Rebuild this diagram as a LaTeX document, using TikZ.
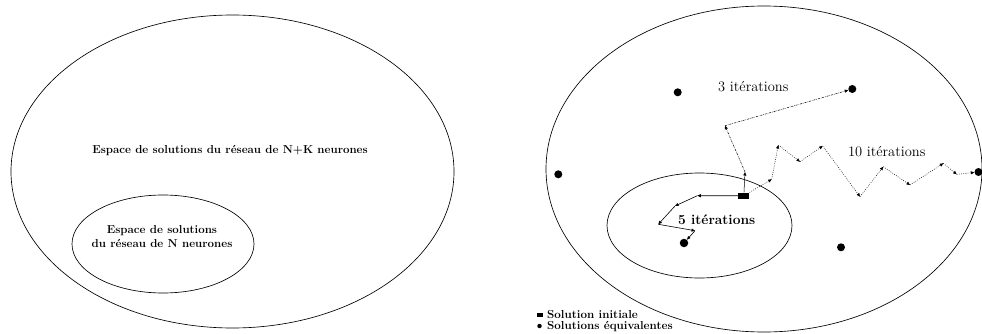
\documentclass[tikz,border=0pt]{standalone}
\usetikzlibrary{arrows.meta}
\begin{document}
\begin{tikzpicture}[x=1pt,y=-1pt,
  region/.style={draw, line width=0.65pt},
  sol/.style={circle, fill, inner sep=0pt, minimum size=8pt},
  startbox/.style={rectangle, fill, inner sep=0pt, minimum width=11pt, minimum height=6.5pt},
  itertip/.style={-{Triangle[length=3.5pt,width=3pt]}},
  fivepath/.style={itertip, line width=0.6pt},
  threepath/.style={itertip, line width=0.5pt, dash pattern=on 2pt off 1pt on 0.6pt off 1pt},
  tenpath/.style={itertip, line width=0.5pt, dash pattern=on 0.8pt off 1.4pt},
  bigtext/.style={font=\bfseries\fontsize{11.5}{14}\selectfont, align=center, inner sep=0pt},
  itertext/.style={font=\fontsize{14.5}{16}\selectfont, inner sep=0pt},
  legendtext/.style={font=\bfseries\fontsize{11.6}{12}\selectfont, anchor=base west, inner sep=0pt}
]
\useasboundingbox (0,0) rectangle (982,334);

% ---------- left: nested solution spaces ----------
\draw[region] (232.5,171.5) ellipse [x radius=221.5pt, y radius=156.5pt];
\draw[region] (163,244) ellipse [x radius=91pt, y radius=49pt];
\node[bigtext] (bigspace) at (230,151) {Espace de solutions du réseau de N+K neurones};
\node[bigtext] (smallspace) at (162,237) {Espace de solutions\\du réseau de N neurones};

% ---------- right: search trajectories ----------
\draw[region] (764,169) ellipse [x radius=218pt, y radius=163pt];
\draw[region] (699.5,225.5) ellipse [x radius=92.5pt, y radius=52.5pt];

% equivalent solutions
\node[sol] (s1) at (677.7,92.3) {};
\node[sol] (s2) at (852.3,89) {};
\node[sol] (s3) at (558.3,174.3) {};
\node[sol] (s4) at (978.5,172) {};
\node[sol, minimum size=8.5pt] (s5) at (684,243) {};
\node[sol] (s6) at (841,247.3) {};

% initial solution
\node[startbox] (init) at (743.8,195.8) {};

% waypoints of the 5-iteration run
\coordinate (a1) at (697.3,195.7);
\coordinate (a2) at (675,206);
\coordinate (a3) at (658.3,224.3);
\coordinate (a4) at (695,230.7);

% waypoints of the 3-iteration run
\coordinate (b1) at (745,172);
\coordinate (b2) at (725,125.7);

% waypoints of the 10-iteration run
\coordinate (c1) at (771.7,179.3);
\coordinate (c2) at (778.3,145);
\coordinate (c3) at (800,161.7);
\coordinate (c4) at (822.7,146);
\coordinate (c5) at (860,196.7);
\coordinate (c6) at (883.3,166.7);
\coordinate (c7) at (910,185);
\coordinate (c8) at (943.3,163.3);
\coordinate (c9) at (956.7,174.3);

\draw[fivepath] (init) -- (a1);
\draw[fivepath] (a1) -- (a2);
\draw[fivepath] (a2) -- (a3);
\draw[fivepath] (a3) -- (a4);
\draw[fivepath] (a4) -- (s5);

\draw[itertip, line width=0.5pt] (init) -- (b1);
\draw[threepath] (b1) -- (b2);
\draw[threepath] (b2) -- (s2);

\draw[tenpath] (init) -- (c1);
\foreach \p/\q in {c1/c2, c2/c3, c3/c4, c4/c5, c5/c6, c6/c7, c7/c8, c8/c9, c9/s4}
  \draw[tenpath] (\p) -- (\q);

\node[itertext] (three) at (753.3,86.7) {3 itérations};
\node[itertext] (ten) at (886.7,151.7) {10 itérations};
\node[itertext, font=\bfseries\fontsize{13.8}{15}\selectfont] (five) at (716.7,220) {5 itérations};

% ---------- legend ----------
\node[rectangle, fill, inner sep=0pt, minimum width=6pt, minimum height=4.5pt] (keybox) at (539.5,315) {};
\node[circle, fill, inner sep=0pt, minimum size=4.5pt] (keydot) at (539.5,326) {};
\node[legendtext] (keyinit) at (547,318.5) {Solution initiale};
\node[legendtext] (keyequiv) at (547,329.5) {Solutions équivalentes};
\end{tikzpicture}
\end{document}
